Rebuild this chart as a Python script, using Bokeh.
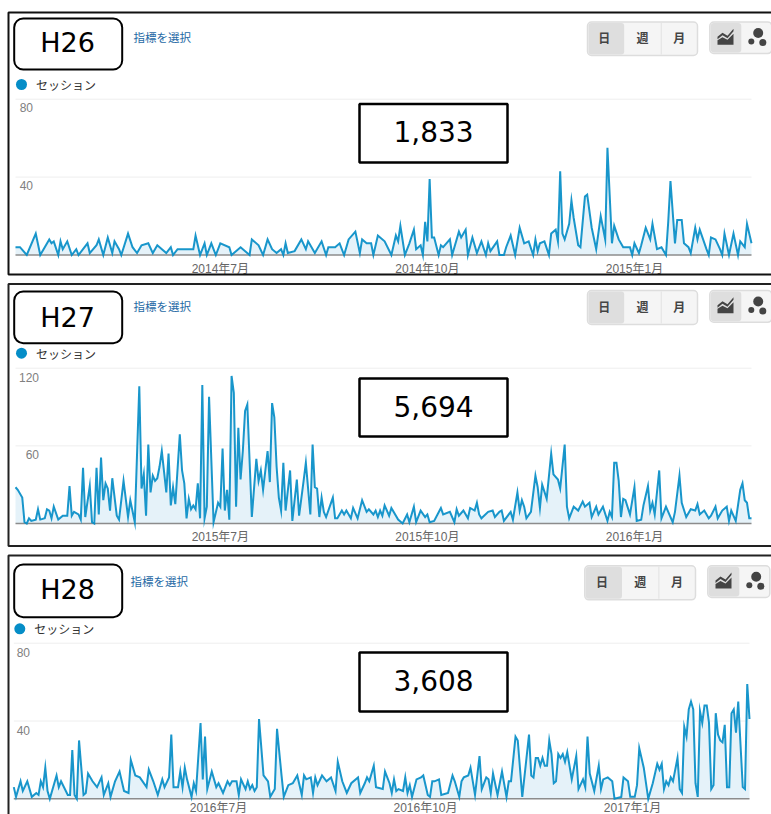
from bokeh.plotting import figure
from bokeh.layouts import column
from bokeh.models import (BoxAnnotation, Label, LinearAxis, FixedTicker, Range1d, PolyAnnotation)
from bokeh.embed import file_html
from bokeh.resources import INLINE
import math

days_h26 = [0,2,5,9,11,15,16,17,19,20,21,23,25,27,28,30,32,33,36,37,39,41,43,44,46,47,50,52,54,56,59,61,63,67,69,70,72,79,80,82,84,85,87,89,91,95,96,100,104,105,108,110,112,114,116,118,119,120,121,124,127,129,130,133,136,138,139,142,144,146,148,151,153,154,156,158,159,161,164,
167,169,170,171,173,175,177,178,180,181,182,183,184,185,186,188,189,190,193,194,197,198,200,201,203,205,207,209,210,211,214,215,217,218,220,222,224,226,228,230,231,232,233,235,237,238,240,241,242,243,244,246,247,248,250,251,253,254,256,258,260,262,263,265,266,268,270,273,274,275,277,278,280,282,283,285,287,289,290,291,293,294,296,297,299,300,302,303,304,307,308,309,311,313,314,315,317,319,321,322,324,325,327]
sessions_h26 = [4,4,0,11,0,8,6,7,0,7,3,7,0,3,0,3,6,1,5,8,0,9,1,7,3,0,11,4,1,5,6,1,5,1,4,0,3,3,10,0,6,0,6,0,6,4,0,4,0,8,5,0,8,3,1,3,0,6,1,2,8,3,7,1,7,0,4,4,6,0,8,12,1,8,6,6,0,10,7,
0,10,7,15,0,6,13,3,5,0,17,7,39,9,9,0,5,4,8,0,12,9,13,0,9,1,7,0,6,2,7,0,0,4,10,0,14,6,7,0,8,2,6,7,0,11,13,7,43,11,8,16,28,19,5,4,30,31,14,3,20,8,55,6,15,8,4,4,0,6,1,5,14,8,16,3,4,0,17,38,6,18,18,6,4,1,14,8,13,3,0,9,8,3,0,11,0,11,0,7,4,16,6]

days_h27 = [0,1,3,4,5,6,7,9,10,11,13,14,15,16,17,19,21,23,24,25,26,28,29,30,31,33,34,35,36,37,38,39,40,41,42,43,45,46,48,50,51,53,55,56,57,58,59,60,61,62,63,64,65,67,68,69,70,71,73,74,75,76,77,78,79,80,81,82,83,84,85,86,88,90,91,92,93,94,95,96,97,98,99,100,101,102,103,105,107,108,109,110,112,113,114,115,116,117,118,119,120,122,123,125,126,128,129,131,132,133,134,135,136,137,138,141,142,143,145,146,147,149,150,152,154,156,157,159,160,161,162,163,164,
166,167,170,172,174,175,177,178,180,182,183,184,186,189,190,193,195,196,197,199,201,202,204,205,206,207,210,212,213,215,216,217,220,221,223,224,225,226,227,229,231,232,233,234,236,238,239,241,242,244,245,246,248,250,252,253,255,256,258,259,261,263,264,265,266,267,268,269,270,271,273,275,276,278,279,281,282,283,284,286,287,289,292,293,295,296,298,300,302,303,304,306,308,309,311,312,314,316,317,318,320,322,323,324,325,326,327]
sessions_h27 = [28,26,20,1,0,4,2,3,11,3,4,11,10,4,13,3,6,6,29,6,9,7,3,43,5,29,1,0,43,7,51,18,31,27,10,35,6,3,33,5,18,1,106,27,38,6,61,24,37,33,35,44,56,24,54,14,28,15,69,41,31,4,19,11,14,11,31,4,107,4,13,98,1,16,13,58,10,26,3,114,101,13,74,34,56,87,92,5,50,33,41,26,56,32,93,82,44,20,10,47,10,41,2,34,6,33,47,7,61,28,27,5,20,9,5,20,4,4,10,7,10,4,12,4,18,9,11,7,10,5,10,6,14,
6,12,3,0,7,1,13,1,10,5,7,1,2,12,7,9,1,11,6,10,4,12,10,16,7,4,9,10,5,9,10,2,9,3,24,10,18,13,4,9,37,28,12,30,19,54,38,34,27,61,13,4,13,10,17,13,16,5,13,7,13,2,9,5,47,47,33,5,19,18,7,28,2,3,14,29,10,16,7,41,4,13,1,9,37,16,5,11,10,15,7,10,4,6,13,4,10,13,2,10,2,26,31,18,16,4,4]

days_h28 = [0,1,3,4,6,8,10,11,12,13,14,15,16,19,20,21,24,25,26,27,28,29,31,32,33,35,37,39,40,42,43,45,47,49,51,52,54,56,59,60,62,64,66,67,69,70,71,73,74,75,76,77,79,80,81,83,84,85,86,88,90,91,93,95,96,97,99,100,101,103,104,105,106,107,108,109,111,113,114,116,117,119,120,122,124,126,128,129,130,132,133,134,135,137,139,141,143,144,146,148,150,153,154,156,157,158,160,161,164,165,
167,168,169,170,171,173,174,175,176,177,179,181,182,184,185,186,187,189,190,193,195,196,198,199,200,202,203,205,207,208,210,211,212,213,215,216,217,219,220,221,223,224,226,229,230,231,232,233,234,235,236,237,238,239,240,241,242,243,244,245,246,248,249,250,251,253,254,255,256,258,260,261,262,264,266,267,270,271,273,274,276,277,278,280,282,284,286,287,288,289,290,291,292,293,295,296,297,298,299,300,301,302,303,304,305,306,307,308,309,310,311,312,313,314,315,316,317,318,319,320,321,322,324,325,326,327]
sessions_h28 = [6,1,9,4,9,1,3,2,9,6,16,4,0,12,6,9,2,2,25,2,0,30,2,3,13,9,6,11,2,8,1,9,14,4,3,20,12,11,6,15,9,2,10,6,11,33,6,6,14,6,16,10,1,8,4,39,10,32,5,14,6,8,3,9,7,9,9,2,10,5,9,5,7,4,6,41,12,9,1,5,36,12,1,7,8,12,2,12,10,11,3,11,7,12,9,11,4,19,9,3,8,11,3,8,11,9,17,6,5,14,
8,3,10,4,5,4,11,3,7,1,10,11,12,2,1,9,9,10,2,3,12,9,1,9,11,12,16,2,22,5,11,10,3,13,2,8,14,1,9,9,32,30,1,33,12,11,21,21,17,21,17,17,30,23,8,9,23,21,23,19,24,10,16,22,5,10,6,32,13,4,17,5,10,11,9,0,1,11,9,1,1,7,26,16,0,8,18,15,18,5,9,7,11,9,21,5,3,37,32,46,50,46,8,1,45,39,48,48,39,5,7,44,33,30,29,38,6,6,44,46,34,50,6,5,59,41]

titles = ["H26", "H27", "H28"]
totals = ["1,833", "5,694", "3,608"]
tick_days = [91, 183, 275]
tick_labels_h26 = ["2014年7月", "2014年10月", "2015年1月"]
tick_labels_h27 = ["2015年7月", "2015年10月", "2016年1月"]
tick_labels_h28 = ["2016年7月", "2016年10月", "2017年1月"]
y_ticks_h26 = [40, 80]
y_ticks_h27 = [60, 120]
y_ticks_h28 = [40, 80]
metric_link = "指標を選択"
legend_name = "セッション"
button_labels = ["日", "週", "月"]

BLUE = "#058dc7"
CJK = "Noto Sans CJK JP"
ARIAL = "Liberation Sans, Noto Sans CJK JP"
W = 771
LAST_DAY = 327

def panel(days, vals, title, total, tlabels, yticks, geo):
    ft, h = geo["ft"], geo["h"]
    base, tp, vmax = geo["base"], geo["tp"], yticks[-1]
    ppd = (geo["fr"] - geo["fl"]) / LAST_DAY
    ppv = (base - tp) / vmax
    xs, xe = -geo["fl"] / ppd, LAST_DAY + (W - geo["fr"]) / ppd
    ys, ye = -(ft + h - base) / ppv, vmax + (tp - ft) / ppv
    dy = geo["shift"] / ppv
    p = figure(width=W, height=h, output_backend="svg", toolbar_location=None,
               x_axis_type=None, y_axis_type=None,
               x_range=Range1d(xs, xe), y_range=Range1d(ys, ye),
               min_border_left=0, min_border_right=0, min_border_top=0, min_border_bottom=0,
               outline_line_color=None, border_fill_color="white")
    p.extra_y_ranges = {"lbl": Range1d(ys + dy, ye + dy)}
    yax = LinearAxis(y_range_name="lbl", ticker=FixedTicker(ticks=yticks),
                     fixed_location=(geo["ylab_r"] + 5.5 - geo["fl"]) / ppd,
                     major_tick_line_color=None, minor_tick_line_color=None, axis_line_color=None,
                     major_label_standoff=0, major_label_text_font=ARIAL,
                     major_label_text_font_size="12px", major_label_text_color="#808080",
                     major_label_text_baseline="middle")
    p.add_layout(yax, "left")
    xax = LinearAxis(ticker=FixedTicker(ticks=tick_days),
                     fixed_location=(base - (geo["xlab"] - 11)) / ppv,
                     major_label_overrides=dict(zip(tick_days, tlabels)),
                     major_tick_line_color=None, minor_tick_line_color=None, axis_line_color=None,
                     major_label_standoff=0, major_label_text_font=ARIAL,
                     major_label_text_baseline="middle",
                     major_label_text_font_size="12px", major_label_text_color="#666666")
    p.add_layout(xax, "below")
    p.segment([0] * len(yticks), yticks, [LAST_DAY] * len(yticks), yticks, line_color="#eeeeee", line_width=1)

    p.varea(days, [0] * len(days), vals, fill_color="#e5f2f9", fill_alpha=1)
    p.segment([0], [0], [LAST_DAY], [0], line_color="#8c8c8c", line_width=1.5)
    p.line(days, vals, line_color=BLUE, line_width=2, line_alpha=0.92, line_join="miter")

    def box(l, t, r, b, fill=None, line="black", lw=2, rad=0):
        p.add_layout(BoxAnnotation(left=l, right=r, top=t - ft, bottom=b - ft,
                                   left_units="canvas", right_units="canvas", top_units="canvas", bottom_units="canvas",
                                   fill_color=fill, fill_alpha=1 if fill else 0,
                                   line_color=line, line_alpha=1 if line else 0, line_width=lw,
                                   border_radius=int(math.ceil(rad))))
    def text(x, y, s, size, color="#000000", font="DejaVu Sans", align="center", style="normal"):
        p.add_layout(Label(x=x, y=y - ft, text=s, x_units="canvas", y_units="canvas",
                           text_align=align, text_baseline="middle", text_font=font,
                           text_font_size=size, text_color=color, text_font_style=style))
    def poly(pts, fill):
        p.add_layout(PolyAnnotation(xs=[a for a, _ in pts], ys=[b - ft for _, b in pts],
                                    xs_units="canvas", ys_units="canvas",
                                    fill_color=fill, fill_alpha=1, line_color=None))

    box(8, geo["ftop"], 790, geo["fbot"], lw=2, line=geo["fcol"])
    box(13.7, geo["bt"], 121.7, geo["bb"], fill="white", rad=9)
    text(67, geo["ty"], title, "27px")
    text(geo["linkx"] - 1, geo["linky"] - 1, metric_link, "11.5px", color="#1f6aa5", font=CJK, align="left")
    lx = geo["legx"]
    box(lx - 5.5, geo["legy"] - 5.5, lx + 5.5, geo["legy"] + 5.5, fill=BLUE, line=None, lw=0, rad=5.5)
    text(lx + 14.5, geo["legy"], legend_name, "12px", color="#333333", font=CJK, align="left")
    box(359, geo["vt"], 507, geo["vb"], fill="white", lw=2.5)
    text(433, (geo["vt"] + geo["vb"]) / 2 - 1.5, total, "28px")

    bl, bs1, bs2, br = geo["bl"], geo["bs1"], geo["bs2"], geo["br"]
    bt2, bb2 = geo["btn_t"], geo["btn_b"]
    box(bl, bt2, br, bb2, fill="#f5f5f5", line="#dddddd", lw=1.5, rad=4)
    box(bl + 1, bt2 + 1, bs1, bb2 - 1, fill="#dedede", line=None, lw=0, rad=3)
    box(bs2, bt2 + 1, bs2 + 0.8, bb2 - 1, fill="#dddddd", line=None, lw=0)
    for cx, s in zip([(bl + bs1) / 2 - 1.5, (bs1 + bs2) / 2, (bs2 + br) / 2], button_labels):
        text(cx, (bt2 + bb2) / 2 - 1.5, s, "12px", color="#444444", font=CJK, style="bold")

    il = geo["il"]
    ib = geo["ib"]
    box(il, bt2, il + 62, ib, fill="#f5f5f5", line="#dddddd", lw=1.5, rad=4)
    box(il + 1, bt2 + 1, il + 31.5, ib - 1, fill="#dedede", line=None, lw=0, rad=3)
    o = il - 709.3
    y0 = bt2 - 21.3
    poly([(717 + o, 44 + y0), (717 + o, 39.5 + y0), (722 + o, 36.5 + y0), (727 + o, 39 + y0), (733 + o, 33 + y0), (733 + o, 44 + y0)], "#444444")
    poly([(717 + o, 36 + y0), (722 + o, 32 + y0), (727 + o, 35 + y0), (733 + o, 28 + y0), (733 + o, 30.5 + y0), (727 + o, 37.5 + y0), (722 + o, 34.5 + y0), (717 + o, 38.5 + y0)], "#444444")
    for cx, cy, r in [(757.7, 32.3, 5), (750.8, 40.7, 3), (762.3, 41.7, 3.5)]:
        box(cx + o - r, cy + y0 - r, cx + o + r, cy + y0 + r, fill="#444444", line=None, lw=0, rad=r)
    return p

geo1 = dict(h=279, ft=0, base=254.5, tp=98.7, fl=15, fr=751, shift=8.5, ylab_r=33, xlab=266, ty=41.5,
            ftop=12, fbot=274, fcol="#111111", bt=18, bb=69, linkx=134, linky=37, legx=21, legy=84,
            vt=103.5, vb=162, bl=587, bs1=623.7, bs2=660.3, br=697, btn_t=21.5, btn_b=55, il=709.3, ib=53)
geo2 = dict(h=271, ft=279, base=523, tp=367.7, fl=15, fr=751, shift=9, ylab_r=39, xlab=534, ty=316.5,
            ftop=283.5, fbot=545.5, fcol="#222222", bt=291, bb=342.7, linkx=134, linky=306, legx=21, legy=352.7,
            vt=378, vb=436, bl=587, bs1=623.7, bs2=660.3, br=697, btn_t=290, btn_b=324, il=709.3, ib=321.7)
geo3 = dict(h=264, ft=550, base=798.3, tp=642.7, fl=13.3, fr=749, shift=9, ylab_r=30, xlab=805, ty=588.5,
            ftop=555, fbot=830, fcol="#222222", bt=564, bb=616.7, linkx=131, linky=581.7, legx=19.3, legy=628.3,
            vt=652, vb=711, bl=584.3, bs1=621.5, bs2=658, br=695, btn_t=565.3, btn_b=599.3, il=707.3, ib=597)

p1 = panel(days_h26, sessions_h26, titles[0], totals[0], tick_labels_h26, y_ticks_h26, geo1)
p2 = panel(days_h27, sessions_h27, titles[1], totals[1], tick_labels_h27, y_ticks_h27, geo2)
p3 = panel(days_h28, sessions_h28, titles[2], totals[2], tick_labels_h28, y_ticks_h28, geo3)

layout = column(p1, p2, p3, spacing=0)
open("out.html", "w").write(file_html(layout, INLINE))
